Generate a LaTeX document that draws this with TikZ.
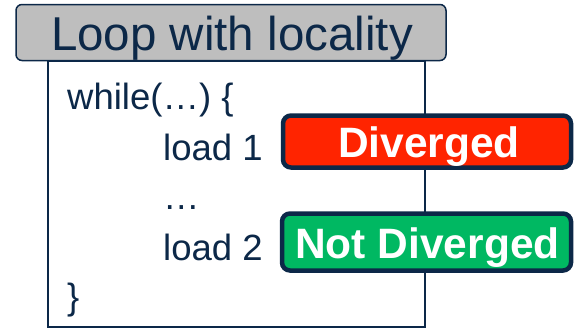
\documentclass[tikz,border=0pt]{standalone}
\usepackage{fontspec}
\setmainfont{Liberation Sans}
\definecolor{navy}{RGB}{12,40,72}
\definecolor{titlegray}{RGB}{190,190,190}
\definecolor{divred}{RGB}{255,36,0}
\definecolor{okgreen}{RGB}{0,184,98}
\tikzset{
  codetext/.style={inner sep=0pt, anchor=base west, text=navy, font=\fontsize{36.5}{40}\selectfont},
  labelbox/.style={draw=navy, line width=4.5pt, rounded corners=8pt, inner sep=0pt},
  labeltext/.style={inner sep=0pt, anchor=base, text=white, font=\fontsize{42.5}{45}\selectfont\bfseries},
}
\begin{document}
\begin{tikzpicture}[x=1pt,y=1pt]
\useasboundingbox (0,0) rectangle (575,-327);
% main code box
\node[draw=navy, line width=1.6pt, fill=white, inner sep=0pt, minimum width=377pt, minimum height=266pt, anchor=north west] (body) at (47,-60) {};
% title box
\node[draw=navy, line width=1.5pt, fill=titlegray, rounded corners=6pt, inner sep=0pt, minimum width=430pt, minimum height=56pt] (titlebox) at (231,-32.5) {};
\node[inner sep=0pt, anchor=base, text=navy, font=\fontsize{47.5}{50}\selectfont] (title) at (232,-50) {Loop with locality};
% code lines
\node[codetext] (l1) at (67,-109) {while(…) \{};
\node[codetext] (l2) at (163,-160) {load 1};
\node[codetext] (l3) at (163,-209) {…};
\node[codetext] (l4) at (163,-260) {load 2};
\node[codetext] (l5) at (67,-309) {\}};
% labels
\node[labelbox, fill=divred, minimum width=288pt, minimum height=52pt] (divbox) at (427,-141.5) {};
\node[labeltext] (divtext) at (429,-157) {Diverged};
\node[labelbox, fill=okgreen, minimum width=289pt, minimum height=57pt] (okbox) at (426.5,-242) {};
\node[labeltext] (oktext) at (427.5,-258) {Not Diverged};
\end{tikzpicture}
\end{document}
